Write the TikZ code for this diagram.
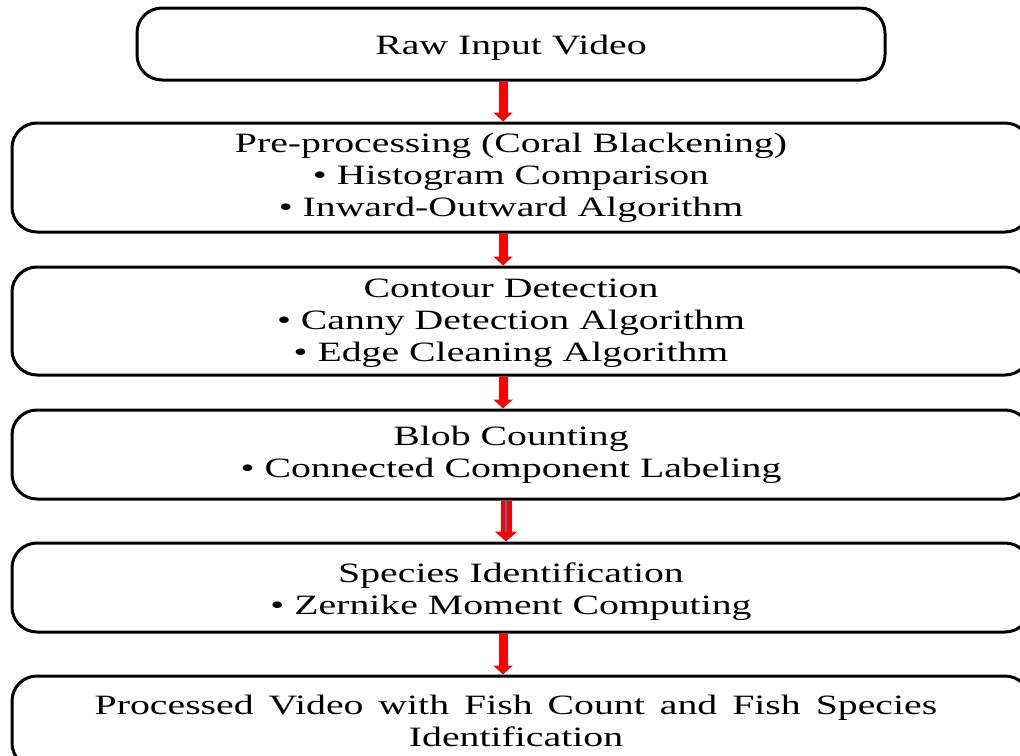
\documentclass[tikz,border=0pt]{standalone}
\usepackage{fontspec}
\setmainfont{Liberation Serif}[FakeStretch=1.42]
\usetikzlibrary{arrows.meta}
\tikzset{
  stage/.style={draw=black, line width=3pt, rounded corners=25pt, inner sep=0pt},
  caption/.style={align=center, inner sep=0pt, font=\fontsize{28}{32}\selectfont},
  flow/.style={draw=red, line width=9pt, -{Triangle[width=19pt,length=9pt]}},
}
\begin{document}
\begin{tikzpicture}[x=1pt,y=-1pt]
\useasboundingbox (0,0) rectangle (1020,755);
\clip (0,0) rectangle (1020,755);
\fill[white] (0,0) rectangle (1020,755);

% stage boxes
\node[stage, minimum width=748pt,  minimum height=72pt]  (b1) at (511,44)    {};
\node[stage, minimum width=1018pt, minimum height=109pt] (b2) at (521,177.5) {};
\node[stage, minimum width=1018pt, minimum height=108pt] (b3) at (521,321)   {};
\node[stage, minimum width=1018pt, minimum height=89pt]  (b4) at (521,454.5) {};
\node[stage, minimum width=1018pt, minimum height=89pt]  (b5) at (521,587.5) {};
\node[stage, minimum width=1018pt, minimum height=92pt]  (b6) at (521,722)   {};

% stage texts
\node[caption] (t1) at (511,47.5)  {Raw Input Video};
\node[caption] (t2) at (511,178) {Pre-processing (Coral Blackening)\\ • Histogram Comparison\\ • Inward-Outward Algorithm};
\node[caption] (t3) at (511,323.5) {Contour Detection\\ • Canny Detection Algorithm\\ • Edge Cleaning Algorithm};
\node[caption] (t4) at (511,455) {Blob Counting\\ • Connected Component Labeling};
\node[caption] (t5) at (511,591.5) {Species Identification\\ • Zernike Moment Computing};
\node[caption] (t6) at (516,721) {\spaceskip=15pt Processed Video with Fish Count and Fish Species\\ Identification};

% flow arrows
\coordinate (ax) at (503,0);
\coordinate (bx) at (506,0);
\draw[flow] (b1.south -| ax) -- (b2.north -| ax);
\draw[flow] (b2.south -| ax) -- (b3.north -| ax);
\draw[flow] (b3.south -| ax) -- (b4.north -| ax);
\draw[flow, line width=11pt, -{Triangle[width=22pt,length=10pt]}] (b4.south -| bx) -- (b5.north -| bx);
\draw[draw={rgb,255:red,79;green,113;blue,170}, line width=2.5pt] (b4.south -| bx) -- ([yshift=10pt]b5.north -| bx);
\draw[flow] (b5.south -| ax) -- (b6.north -| ax);
\end{tikzpicture}
\end{document}
